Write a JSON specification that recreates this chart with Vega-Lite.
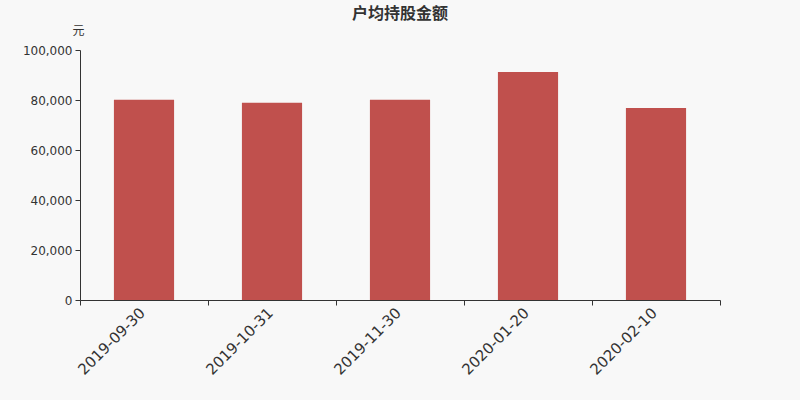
{
  "$schema": "https://vega.github.io/schema/vega-lite/v6.json",
  "width": 640,
  "height": 250,
  "autosize": "none",
  "padding": {"left": 80, "top": 50, "right": 80, "bottom": 100},
  "background": "#f8f8f8",
  "title": {
    "text": "户均持股金额",
    "anchor": "middle",
    "frame": "group",
    "font": "Noto Sans CJK SC",
    "fontSize": 16,
    "fontWeight": "bold",
    "color": "#333333",
    "offset": 2
  },
  "data": {
    "values": [
      {"date": "2019-09-30", "value": 80100},
      {"date": "2019-10-31", "value": 78900},
      {"date": "2019-11-30", "value": 80100},
      {"date": "2020-01-20", "value": 91200},
      {"date": "2020-02-10", "value": 76800}
    ]
  },
  "mark": {"type": "bar", "color": "#c0504d", "width": {"band": 0.47}},
  "encoding": {
    "x": {
      "field": "date",
      "type": "nominal",
      "sort": null,
      "scale": {"paddingInner": 0, "paddingOuter": 0},
      "axis": {
        "title": null,
        "labelAngle": -45,
        "labelFont": "DejaVu Sans",
        "labelFontSize": 15,
        "labelColor": "#333333",
        "domainColor": "#333333",
        "tickColor": "#333333",
        "tickBand": "extent",
        "tickSize": 5,
        "labelPadding": 0,
        "labelOffset": -7
      }
    },
    "y": {
      "field": "value",
      "type": "quantitative",
      "scale": {"domain": [0, 100000]},
      "axis": {
        "title": "元",
        "titleAngle": 0,
        "titleX": -2,
        "titleY": -20,
        "titleAlign": "center",
        "titleBaseline": "middle",
        "titleFont": "Noto Sans CJK SC",
        "titleFontSize": 12,
        "titleFontWeight": "normal",
        "titleColor": "#333333",
        "values": [0, 20000, 40000, 60000, 80000, 100000],
        "format": ",.0f",
        "grid": false,
        "labelFont": "DejaVu Sans",
        "labelFontSize": 12,
        "labelColor": "#333333",
        "domainColor": "#333333",
        "tickColor": "#333333",
        "tickSize": 5,
        "labelPadding": 3
      }
    }
  },
  "config": {"view": {"stroke": null}}
}
